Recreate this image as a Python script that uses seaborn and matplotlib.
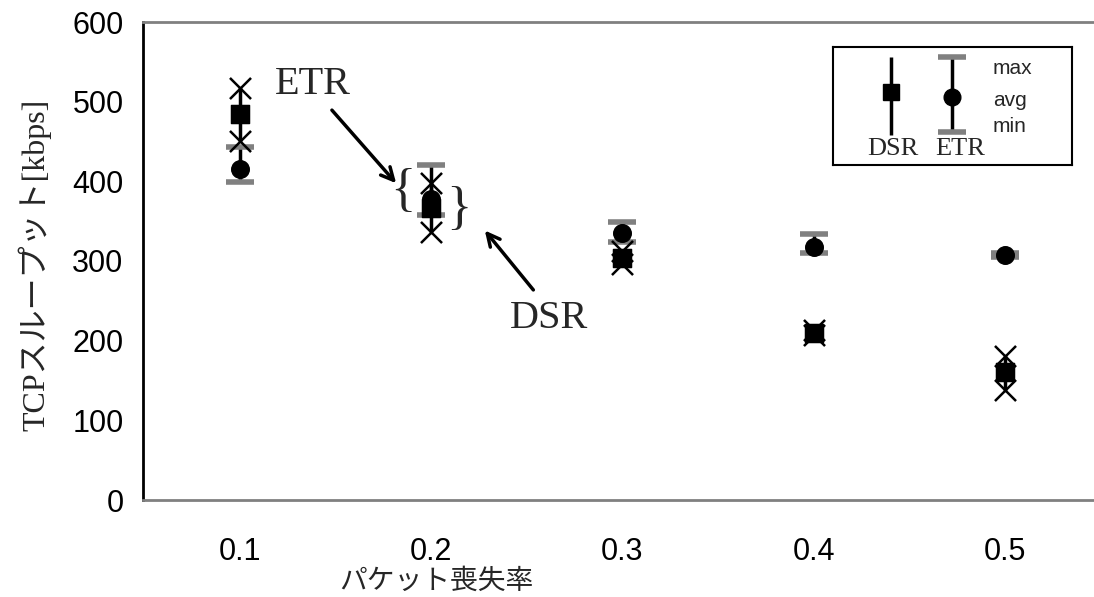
import numpy as np
import pandas as pd
import matplotlib
matplotlib.use("Agg")
import matplotlib.pyplot as plt
import seaborn as sns

# data
loss_rate = [0.1, 0.2, 0.3, 0.4, 0.5]
dsr_max = [517, 398, 312, 213, 181]
dsr_avg = [485, 367, 304, 210, 161]
dsr_min = [451, 336, 296, 207, 138]
etr_max = [443, 420, 349, 334, 310]
etr_avg = [415, 378, 335, 318, 307]
etr_min = [399, 358, 324, 310, 305]
yticks = [0, 100, 200, 300, 400, 500, 600]

dsr = pd.DataFrame({"rate": loss_rate, "max": dsr_max, "avg": dsr_avg, "min": dsr_min})
etr = pd.DataFrame({"rate": loss_rate, "max": etr_max, "avg": etr_avg, "min": etr_min})

sns.set_style("white")
serif_jp = ["Liberation Serif", "Noto Sans CJK JP"]
grey = "#808080"

fig = plt.figure(figsize=(10.94, 5.97), dpi=100)
ax = fig.add_axes([143 / 1094, 97 / 597, 951 / 1094, 478 / 597])

# ETR: black range line with grey caps, circle at average
ax.vlines(etr["rate"], etr["min"], etr["max"], color="black", lw=2.5, zorder=2)
for col in ["max", "min"]:
    sns.scatterplot(data=etr, x="rate", y=col, marker="_", s=420, color=grey,
                    linewidth=4, ax=ax, zorder=3)
sns.scatterplot(data=etr, x="rate", y="avg", marker="o", s=160, color="black",
                edgecolor="black", ax=ax, zorder=4)

# DSR: black range line, x at max/min, square at average
ax.vlines(dsr["rate"], dsr["min"], dsr["max"], color="black", lw=2.5, zorder=5)
for col in ["max", "min"]:
    sns.scatterplot(data=dsr, x="rate", y=col, marker="x", s=230, color="black",
                    linewidth=1.8, ax=ax, zorder=6)
sns.scatterplot(data=dsr, x="rate", y="avg", marker="s", s=180, color="black",
                edgecolor="black", ax=ax, zorder=7)

ax.set_xlim(0.04928, 0.54654)
ax.set_ylim(0, 600)
ax.set_xticks(loss_rate)
ax.set_xticklabels([f"{v:.1f}" for v in loss_rate])
ax.set_yticks(yticks)
ax.set_xlabel("")
ax.set_ylabel("")
ax.tick_params(axis="both", direction="in", length=9, width=1.5, color="black",
               labelsize=22, labelcolor="black")
ax.tick_params(axis="x", pad=27)
ax.tick_params(axis="y", pad=14)
for lab in ax.get_xticklabels() + ax.get_yticklabels():
    lab.set_family("Liberation Sans")
ax.spines["left"].set_color("black")
ax.spines["left"].set_linewidth(2)
ax.spines["bottom"].set_color(grey)
ax.spines["bottom"].set_linewidth(2)
ax.spines["top"].set_color(grey)
ax.spines["top"].set_linewidth(2)
ax.spines["right"].set_visible(False)

# annotations
arrow = dict(arrowstyle="->,head_length=0.9,head_width=0.45", lw=2.5, color="black")
ax.text(0.1382, 521, "ETR", family=serif_jp, fontsize=29, ha="center", va="center")
ax.annotate("", xy=(0.1826, 395), xytext=(0.1471, 492), arrowprops=arrow)
ax.text(0.1852, 387, "{", family=serif_jp, fontsize=38, ha="center", va="center")
ax.text(0.2145, 364, "}", family=serif_jp, fontsize=38, ha="center", va="center")
ax.text(0.2616, 228, "DSR", family=serif_jp, fontsize=29, ha="center", va="center")
ax.annotate("", xy=(0.2271, 341), xytext=(0.2543, 261), arrowprops=arrow)

fig.text(35 / 1094, 1 - 265 / 597, "TCPスループット[kbps]", family=serif_jp,
         fontsize=23, rotation=90, ha="center", va="center")
fig.text(436 / 1094, 1 - 595 / 597, "パケット喪失率", family=serif_jp,
         fontsize=20, ha="center", va="bottom")

# hand-made legend box
leg = fig.add_axes([833 / 1094, 1 - 165 / 597, 239 / 1094, 118 / 597])
leg.set_xlim(0, 239)
leg.set_ylim(118, 0)
leg.set_xticks([])
leg.set_yticks([])
for s in leg.spines.values():
    s.set_color("black")
    s.set_linewidth(1.5)
leg.vlines([58], 10, 88, color="black", lw=2.5)
leg.plot([58], [45], marker="s", ms=11, color="black")
leg.vlines([119], 10, 85, color="black", lw=2.5)
leg.plot([119], [10], marker="_", ms=20, mew=4, color=grey)
leg.plot([119], [85], marker="_", ms=20, mew=4, color=grey)
leg.plot([119], [50], marker="o", ms=12, color="black")
for txt, yy in [("max", 21), ("avg", 53), ("min", 79)]:
    leg.text(160, yy, txt, family="Liberation Sans", fontsize=15, va="center")
leg.text(60, 102, "DSR", family=serif_jp, fontsize=19, ha="center", va="center")
leg.text(127, 102, "ETR", family=serif_jp, fontsize=19, ha="center", va="center")

fig.savefig("out.png", dpi=100)
